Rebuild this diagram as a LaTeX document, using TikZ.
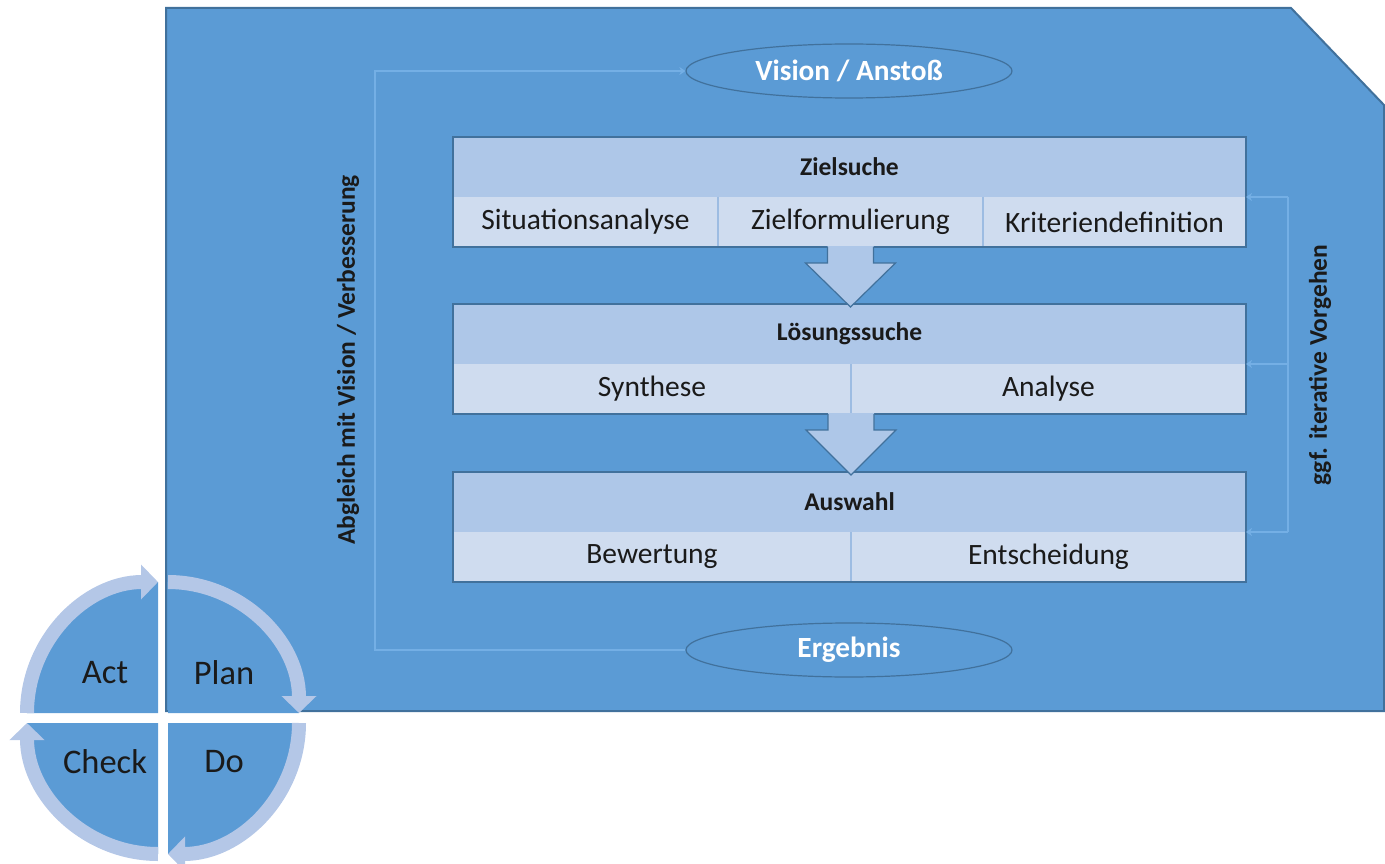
\documentclass[tikz,border=0pt]{standalone}
\usepackage{fontspec}
\setmainfont{Carlito}
\usetikzlibrary{arrows.meta,shapes.geometric,calc}
\definecolor{bgblue}{HTML}{5B9BD5}
\definecolor{edgeblue}{HTML}{41719C}
\definecolor{headblue}{HTML}{AEC7E8}
\definecolor{subblue}{HTML}{CFDCEF}
\definecolor{divblue}{HTML}{9DBCE2}
\definecolor{bandblue}{HTML}{B4C7E7}
\definecolor{connblue}{HTML}{74AFE5}
\definecolor{txt}{HTML}{1A1A1A}
\begin{document}
\begin{tikzpicture}[x=1pt,y=1pt,
  hdr/.style={fill=headblue, minimum height=60pt, minimum width=793pt, inner sep=0pt, outer sep=0pt, anchor=north west, font=\fontsize{25.5}{30}\selectfont\bfseries, text=txt},
  cell/.style={fill=subblue, minimum height=50pt, inner sep=0pt, outer sep=0pt, anchor=north west, font=\fontsize{29.5}{34}\selectfont, text=txt},
  divline/.style={draw=divblue, line width=1.2pt},
  boxedge/.style={draw=edgeblue, line width=1.8pt},
  blockarrow/.style={draw=edgeblue, line width=1.2pt, line join=miter},
  ell/.style={ellipse, fill=bgblue, draw=edgeblue, line width=1.2pt, minimum width=326pt, minimum height=54pt, inner sep=0pt, text=white, font=\fontsize{29.3}{34}\selectfont\bfseries},
  conn/.style={draw=connblue, line width=1.3pt},
  connarrow/.style={conn, -{Stealth[length=6pt,width=8pt]}},
  sidelabel/.style={rotate=90, font=\fontsize{25.5}{30}\selectfont\bfseries, text=txt},
  quad/.style={fill=bgblue},
  band/.style={draw=bandblue, line width=14pt, -{Triangle[width=34pt,length=17pt]}},
  pdca/.style={font=\fontsize{34.5}{40}\selectfont, text=txt}
]
\useasboundingbox (0,0) rectangle (1385,-864);

% main shape
\draw[edgeblue, line width=2pt, fill=bgblue] (166,-8) -- (1291,-8) -- (1384,-105) -- (1384,-711) -- (166,-711) -- cycle;

% ellipses
\node[ell] (v) at (849,-71) {Vision / Anstoß};
\node[ell] (e) at (849,-650) {Ergebnis};

% box 1
\node[hdr] (h1) at (453,-137) {Zielsuche};
\node[cell, minimum width=265pt] (s11) at (h1.south west) {Situationsanalyse};
\node[cell, minimum width=265pt] (s12) at (s11.north east) {Zielformulierung};
\node[cell, minimum width=263pt] (s13) at (s12.north east) {Kriteriendefinition};
\draw[divline] (s11.north east) -- (s11.south east);
\draw[divline] (s12.north east) -- (s12.south east);
\draw[boxedge] (h1.north west) rectangle (s13.south east);

% box 2
\node[hdr] (h2) at (453,-304) {Lösungssuche};
\node[cell, minimum width=398pt] (s21) at (h2.south west) {Synthese};
\node[cell, minimum width=395pt] (s22) at (s21.north east) {Analyse};
\draw[divline] (s21.north east) -- (s21.south east);
\draw[boxedge] (h2.north west) rectangle (s22.south east);

% box 3
\node[hdr] (h3) at (453,-472) {Auswahl};
\node[cell, minimum width=398pt] (s31) at (h3.south west) {Bewertung};
\node[cell, minimum width=395pt] (s32) at (s31.north east) {Entscheidung};
\draw[divline] (s31.north east) -- (s31.south east);
\draw[boxedge] (h3.north west) rectangle (s32.south east);

% block arrows
\coordinate (t1) at (s12.south);
\coordinate (p1) at ($(h2.north -| t1)+(0,-3)$);
\fill[headblue] ($(t1)+(-23,1)$) -- ($(t1)+(-23,-16)$) -- ($(t1)+(-45,-16)$) -- (p1) -- ($(t1)+(45,-16)$) -- ($(t1)+(23,-16)$) -- ($(t1)+(23,1)$) -- cycle;
\draw[blockarrow] ($(t1)+(-23,0)$) -- ($(t1)+(-23,-16)$) -- ($(t1)+(-45,-16)$) -- (p1) -- ($(t1)+(45,-16)$) -- ($(t1)+(23,-16)$) -- ($(t1)+(23,0)$);
\coordinate (t2) at (s21.south east);
\coordinate (p2) at ($(h3.north -| t2)+(0,-3)$);
\fill[headblue] ($(t2)+(-23,1)$) -- ($(t2)+(-23,-16)$) -- ($(t2)+(-45,-16)$) -- (p2) -- ($(t2)+(45,-16)$) -- ($(t2)+(23,-16)$) -- ($(t2)+(23,1)$) -- cycle;
\draw[blockarrow] ($(t2)+(-23,0)$) -- ($(t2)+(-23,-16)$) -- ($(t2)+(-45,-16)$) -- (p2) -- ($(t2)+(45,-16)$) -- ($(t2)+(23,-16)$) -- ($(t2)+(23,0)$);

% left connector
\coordinate (lt) at (375,-71);
\coordinate (lb) at (375,-650);
\draw[connarrow] (e.west) -- (lb) -- (lt) -- (v.west);

% right connector
\coordinate (rt) at (1288,-197);
\coordinate (rm) at (1288,-364);
\coordinate (rb) at (1288,-532);
\draw[conn] (rb) -- (rt);
\draw[connarrow] (rt) -- (h1.south east);
\draw[connarrow] (rm) -- (h2.south east);
\draw[connarrow] (rb) -- (h3.south east);

% side labels
\node[sidelabel] (la) at (348,-360) {Abgleich mit Vision / Verbesserung};
\node[sidelabel] (lg) at (1320,-365) {ggf. iterative Vorgehen};

% PDCA
\fill[quad] (168,-713) -- ++(131,0) arc (0:90:131) -- cycle;
\fill[quad] (168,-723) -- ++(0,-131) arc (270:360:131) -- cycle;
\fill[quad] (158,-723) -- ++(-131,0) arc (180:270:131) -- cycle;
\fill[quad] (158,-713) -- ++(0,131) arc (90:180:131) -- cycle;
\draw[band] (168,-582) arc (90:0:131);
\draw[band] (299,-723) arc (0:-90:131);
\draw[band] (158,-854) arc (-90:-180:131);
\draw[band] (27,-713) arc (180:90:131);
\node[pdca] (act) at (105,-673) {Act};
\node[pdca] (plan) at (224,-673) {Plan};
\node[pdca] (check) at (105,-762) {Check};
\node[pdca] (do) at (224,-762) {Do};
\end{tikzpicture}
\end{document}
